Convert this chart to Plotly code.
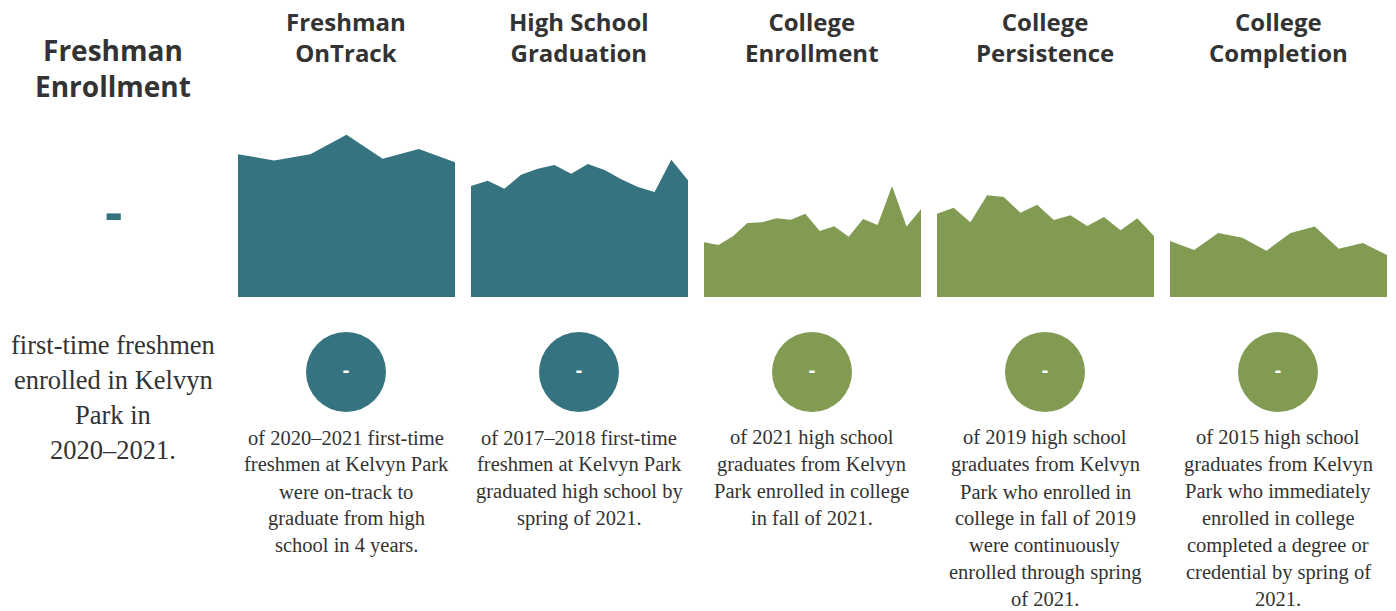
import plotly.graph_objects as go

W, H = 1396, 611

# ---- data ----
titles = ["Freshman<br>OnTrack", "High School<br>Graduation", "College<br>Enrollment",
          "College<br>Persistence", "College<br>Completion"]
left_title = "Freshman<br>Enrollment"
left_value = "-"
left_desc = ["first-time freshmen", "enrolled in Kelvyn", "Park in", "2020–2021."]

ontrack = [79.3, 75.9, 79.3, 90.2, 76.8, 82.2, 74.8]
graduation = [61.7, 64.6, 60.2, 67.9, 71.3, 73.3, 68.5, 73.9, 70.6, 65.4, 61.1, 58.3, 76.3, 64.8]
enrollment = [30.4, 28.9, 33.7, 41.1, 41.5, 43.7, 42.9, 46.3, 36.7, 39.3, 33.5, 43.3, 40.0, 61.7, 39.1, 48.7]
persistence = [46.3, 49.6, 41.5, 56.5, 55.6, 46.8, 51.3, 42.8, 45.4, 39.4, 44.4, 37.1, 43.7, 33.9]
completion = [31.1, 26.1, 35.6, 32.9, 25.7, 35.6, 39.1, 26.8, 30.0, 23.3]
series = [ontrack, graduation, enrollment, persistence, completion]

current_values = ["-", "-", "-", "-", "-"]

descs = [
    ["of 2020–2021 first-time", "freshmen at Kelvyn Park", "were on-track to",
     "graduate from high", "school in 4 years."],
    ["of 2017–2018 first-time", "freshmen at Kelvyn Park", "graduated high school by",
     "spring of 2021."],
    ["of 2021 high school", "graduates from Kelvyn", "Park enrolled in college",
     "in fall of 2021."],
    ["of 2019 high school", "graduates from Kelvyn", "Park who enrolled in",
     "college in fall of 2019", "were continuously", "enrolled through spring",
     "of 2021."],
    ["of 2015 high school", "graduates from Kelvyn", "Park who immediately",
     "enrolled in college", "completed a degree or", "credential by spring of",
     "2021."],
]

TEAL = "#357380"
GREEN = "#819b53"
colors = [TEAL, TEAL, GREEN, GREEN, GREEN]
TXT = "#333333"

# ---- layout helpers ----
def px(x):
    return x / W

def py(y):
    return 1 - y / H

fig = go.Figure()

col_center = lambda c: 113 + 233 * c  # pixel centre of column c (0 = left column)

panel_left = [238, 471, 704, 937, 1170]
panel_w = 217
y_bottom, y_top = 297, 117

layout_axes = {}
for i, (vals, col) in enumerate(zip(series, colors)):
    n = i + 1
    xa = "x" if n == 1 else f"x{n}"
    ya = "y" if n == 1 else f"y{n}"
    fig.add_trace(go.Scatter(
        x=list(range(len(vals))), y=vals, mode="lines",
        fill="tozeroy", fillcolor=col, line=dict(width=0, color=col),
        xaxis=xa, yaxis=ya, hoverinfo="skip", showlegend=False))
    key = "" if n == 1 else str(n)
    layout_axes[f"xaxis{key}"] = dict(
        domain=[px(panel_left[i]), px(panel_left[i] + panel_w)],
        range=[0, len(vals) - 1], visible=False, fixedrange=True, anchor=ya)
    layout_axes[f"yaxis{key}"] = dict(
        domain=[py(y_bottom), py(y_top)], range=[0, 100],
        visible=False, fixedrange=True, anchor=xa)

# overlay axis for circles: x in column units, y in pixels (reversed)
fig.add_trace(go.Scatter(
    x=[1, 2, 3, 4, 5], y=[372] * 5, mode="markers+text",
    marker=dict(size=80, color=colors, line=dict(width=0)),
    text=current_values, textposition="middle center",
    textfont=dict(family="Open Sans", size=20, color="white", weight=700),
    xaxis="x6", yaxis="y6", hoverinfo="skip", showlegend=False))
layout_axes["xaxis6"] = dict(domain=[0, 1], range=[-113 / 233, (W - 113) / 233],
                             visible=False, fixedrange=True, anchor="y6")
layout_axes["yaxis6"] = dict(domain=[0, 1], range=[H, 0], visible=False,
                             fixedrange=True, anchor="x6")

annotations = []
# left column
annotations.append(dict(x=px(col_center(0)), y=py(68), xref="paper", yref="paper",
                        text=left_title, showarrow=False, xanchor="center", yanchor="middle",
                        font=dict(family="Open Sans", size=28, color=TXT, weight=700)))
annotations.append(dict(x=px(col_center(0)), y=py(210), xref="paper", yref="paper",
                        text=left_value, showarrow=False, xanchor="center", yanchor="middle",
                        font=dict(family="Open Sans", size=54, color=TEAL, weight=700)))
for j, line in enumerate(left_desc):
    annotations.append(dict(x=px(col_center(0)), y=py(345 + 35 * j), xref="paper", yref="paper",
                            text=line, showarrow=False, xanchor="center", yanchor="middle",
                            font=dict(family="Liberation Serif", size=26.5, color=TXT)))

for i in range(5):
    cx = col_center(i + 1)
    annotations.append(dict(x=px(cx), y=py(37), xref="paper", yref="paper",
                            text=titles[i], showarrow=False, xanchor="center", yanchor="middle",
                            font=dict(family="Open Sans", size=24, color=TXT, weight=700)))
    for j, line in enumerate(descs[i]):
        annotations.append(dict(x=px(cx), y=py(438 + 26.8 * j), xref="paper", yref="paper",
                                text=line, showarrow=False, xanchor="center", yanchor="middle",
                                font=dict(family="Liberation Serif", size=20.5, color=TXT)))

fig.update_layout(
    width=W, height=H, margin=dict(l=0, r=0, t=0, b=0),
    paper_bgcolor="white", plot_bgcolor="rgba(0,0,0,0)",
    annotations=annotations, showlegend=False,
    **layout_axes)

fig.write_html("out.html", config={"displayModeBar": False},
               post_script="document.body.style.margin='0';")
